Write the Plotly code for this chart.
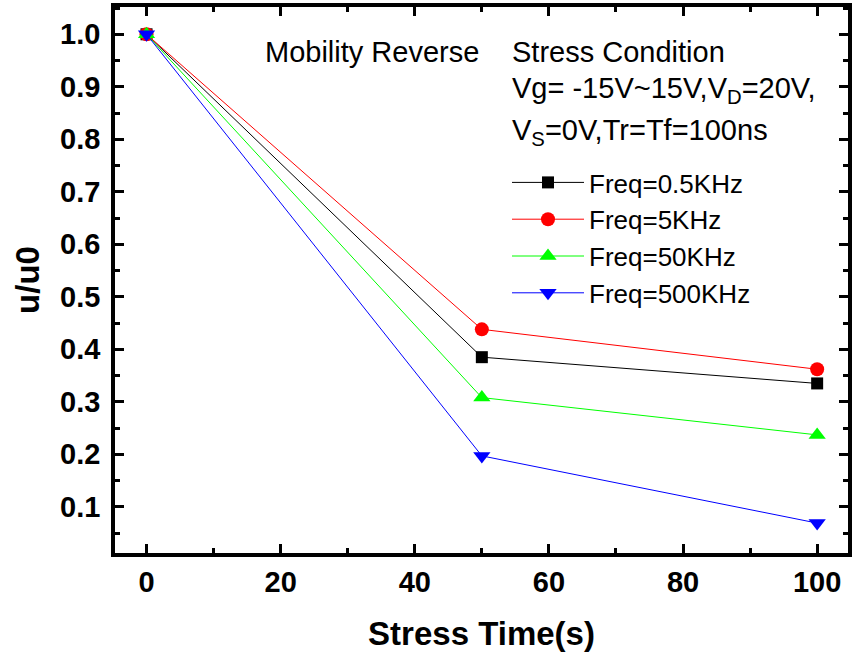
import plotly.graph_objects as go

stress_time = [0, 50, 100]
freq_labels = ["Freq=0.5KHz", "Freq=5KHz", "Freq=50KHz", "Freq=500KHz"]
u_05k = [1.0, 0.385, 0.335]
u_5k = [1.0, 0.438, 0.362]
u_50k = [1.0, 0.308, 0.237]
u_500k = [1.0, 0.197, 0.069]

series = [u_05k, u_5k, u_50k, u_500k]
colors = ["#000000", "#FF0000", "#00FF00", "#0000FF"]
symbols = ["square", "circle", "triangle-up", "triangle-down"]
sizes = [12, 14, 15, 15]

fig = go.Figure()
for name, vals, c, s, sz in zip(freq_labels, series, colors, symbols, sizes):
    fig.add_trace(go.Scatter(
        x=stress_time, y=vals, name=name, mode="lines+markers",
        line=dict(color=c, width=1),
        marker=dict(color=c, symbol=s, size=sz, line=dict(width=0)),
    ))

font_fam = "Liberation Sans, Arial, sans-serif"
axis_common = dict(
    showline=True, linecolor="black", linewidth=3.5, mirror="ticks",
    ticks="inside", ticklen=9, tickwidth=3, tickcolor="black",
    showgrid=False, zeroline=False, automargin=False,
    tickfont=dict(family=font_fam, size=29, color="black", weight="bold"),
)

fig.update_xaxes(
    range=[-4.7, 104.6], tick0=0, dtick=20,
    minor=dict(ticks="inside", ticklen=5, tickwidth=3, dtick=10, tick0=0, tickcolor="black"),
    title=dict(text="Stress Time(s)", font=dict(family=font_fam, size=33, color="black", weight="bold"), standoff=26),
    **axis_common,
)
fig.update_yaxes(
    range=[0.012, 1.052], tick0=0, dtick=0.1, tickformat=".1f",
    ticklabelstandoff=5,
    minor=dict(ticks="inside", ticklen=5, tickwidth=3, dtick=0.05, tick0=0, tickcolor="black"),
    title=dict(text="u/u0", font=dict(family=font_fam, size=33, color="black", weight="bold"), standoff=12),
    **axis_common,
)

ann_font = dict(family=font_fam, size=29, color="black")
annotations = [
    dict(text="Mobility Reverse", x=263, y=52),
    dict(text="Stress Condition", x=510, y=52),
    dict(text="Vg= -15V~15V,V<sub>D</sub>=20V,", x=510, y=90),
    dict(text="V<sub>S</sub>=0V,Tr=Tf=100ns", x=510, y=132),
]
plot_left, plot_right, plot_top, plot_bottom = 115, 848, 7, 553
for a in annotations:
    fig.add_annotation(
        text=a["text"], xref="paper", yref="paper",
        x=(a["x"] - plot_left) / (plot_right - plot_left),
        y=(plot_bottom - a["y"]) / (plot_bottom - plot_top),
        xanchor="left", yanchor="middle", showarrow=False, font=ann_font,
    )

fig.update_layout(
    width=853, height=657,
    margin=dict(l=plot_left, r=853 - plot_right, t=plot_top, b=657 - plot_bottom),
    paper_bgcolor="white", plot_bgcolor="white",
    showlegend=True,
    legend=dict(
        x=(507 - plot_left) / (plot_right - plot_left),
        y=(plot_bottom - 159) / (plot_bottom - plot_top),
        xanchor="left", yanchor="top",
        font=dict(family=font_fam, size=26, color="black"),
        bgcolor="rgba(0,0,0,0)", borderwidth=0,
        tracegroupgap=0, itemwidth=72,
    ),
)

fig.write_html("out.html", config={"displayModeBar": False},
               post_script="document.body.style.margin='0';")
